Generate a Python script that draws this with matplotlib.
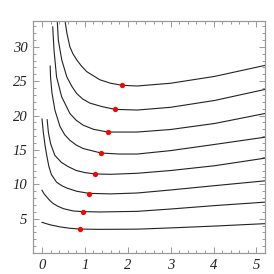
import matplotlib
matplotlib.use("Agg")
import matplotlib.pyplot as plt
from matplotlib.ticker import MultipleLocator

# curves (bottom to top)
h_x = [0, 0.19, 0.42, 0.65, 0.88, 1.35, 2.22, 3.0, 4.03, 5.2]
h_y = [4.46, 4.1, 3.8, 3.6, 3.48, 3.44, 3.47, 3.65, 3.92, 4.27]

g_x = [0, 0.05, 0.11, 0.18, 0.26, 0.37, 0.5, 0.73, 0.96, 1.35, 2.22, 3.0, 4.03, 5.2]
g_y = [9.13, 8.6, 8.15, 7.65, 7.2, 6.8, 6.45, 6.11, 6.02, 5.97, 6.06, 6.4, 6.9, 7.4]

e_x = [0, 0.03, 0.07, 0.11, 0.16, 0.22, 0.34, 0.46, 0.58, 0.81, 1.1, 1.6, 2.22, 3.0, 4.03, 5.2]
e_y = [19.5, 17.6, 15.7, 14.2, 12.6, 11.4, 10.3, 9.8, 9.45, 8.98, 8.68, 8.6, 8.73, 9.17, 9.8, 10.5]

f_x = [0.12, 0.15, 0.2, 0.3, 0.45, 0.6, 0.8, 1.0, 1.24, 1.6, 2.22, 3.0, 4.03, 5.2]
f_y = [19.4, 17.5, 15.9, 14.2, 13.2, 12.6, 12.0, 11.7, 11.5, 11.45, 11.6, 12.0, 12.7, 13.8]

a_x = [0.19, 0.2, 0.23, 0.3, 0.42, 0.53, 0.65, 0.8, 0.96, 1.375, 1.8, 2.22, 3.0, 4.03, 5.2]
a_y = [27.2, 25.5, 23.4, 20.8, 18.4, 17.2, 16.4, 15.7, 15.2, 14.55, 14.4, 14.4, 14.9, 15.8, 16.85]

b_x = [0.25, 0.28, 0.34, 0.46, 0.65, 0.8, 0.96, 1.2, 1.53, 2.22, 3.0, 4.03, 5.2]
b_y = [32.9, 29.5, 25.6, 22.7, 20.3, 19.3, 18.6, 18.0, 17.6, 17.6, 17.97, 18.85, 20.3]

c_x = [0.35, 0.38, 0.46, 0.58, 0.7, 0.81, 0.95, 1.12, 1.4, 1.7, 2.22, 3.0, 4.03, 5.2]
c_y = [34.5, 31.0, 28.1, 25.6, 24.2, 23.2, 22.4, 21.8, 21.3, 20.9, 20.8, 21.2, 22.2, 23.8]

d_x = [0.52, 0.58, 0.65, 0.72, 0.81, 0.92, 1.04, 1.35, 1.6, 1.87, 2.22, 3.0, 4.03, 5.2]
d_y = [34.5, 32.0, 30.0, 29.0, 28.1, 27.2, 26.4, 25.2, 24.7, 24.4, 24.3, 24.7, 25.7, 27.3]

curves = [(h_x, h_y), (g_x, g_y), (e_x, e_y), (f_x, f_y),
          (a_x, a_y), (b_x, b_y), (c_x, c_y), (d_x, d_y)]

dot_x = [0.88, 0.96, 1.10, 1.24, 1.375, 1.53, 1.70, 1.87]
dot_y = [3.47, 6.02, 8.65, 11.5, 14.55, 17.6, 20.9, 24.4]

x_ticks = [0, 1, 2, 3, 4, 5]
y_ticks = [5, 10, 15, 20, 25, 30]

fig = plt.figure(figsize=(2.74, 2.74), dpi=100)
ax = fig.add_axes([33 / 274, 21 / 274, 232 / 274, 232.3 / 274])

for cx, cy in curves:
    ax.plot(cx, cy, color="#222222", lw=0.8, solid_joinstyle="round")
ax.plot(dot_x, dot_y, "o", color="#ff0000", ms=3.8, mec="none", zorder=5)

ax.set_xlim(-0.21, 5.2)
ax.set_ylim(0, 33.8)
ax.set_xticks(x_ticks)
ax.set_yticks(y_ticks)
ax.xaxis.set_minor_locator(MultipleLocator(0.2))
ax.yaxis.set_minor_locator(MultipleLocator(1))

frame_col = "#999999"
for s in ax.spines.values():
    s.set_color(frame_col)
    s.set_linewidth(0.9)
ax.tick_params(which="both", direction="in", top=True, right=True,
               color=frame_col, width=0.7)
ax.tick_params(which="major", length=4, pad=4)
ax.tick_params(which="minor", length=2)
for lab in ax.get_xticklabels() + ax.get_yticklabels():
    lab.set_fontfamily("Liberation Serif")
    lab.set_fontstyle("italic")
    lab.set_fontsize(10.5)
    lab.set_color("#222222")

fig.savefig("out.png", dpi=100)
